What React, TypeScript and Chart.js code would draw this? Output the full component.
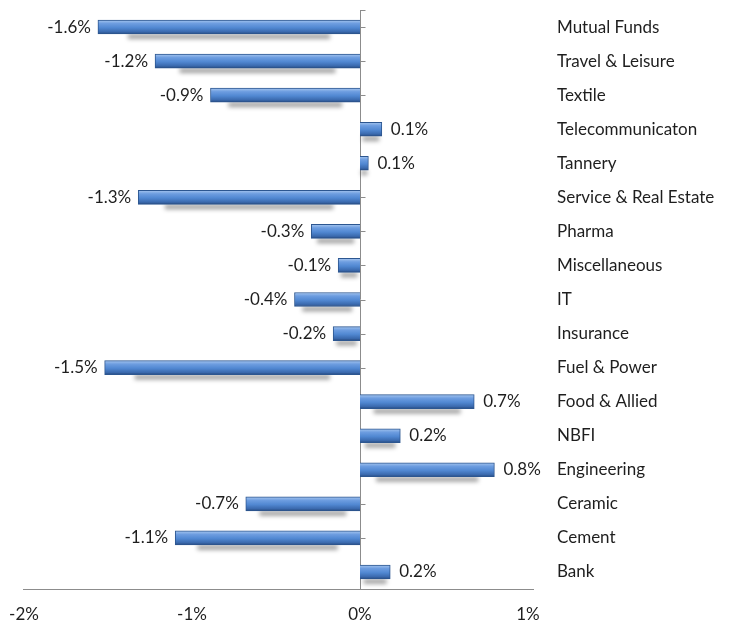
import React, { useEffect, useRef } from "react";
import { Chart, registerables } from "chart.js";

Chart.register(...registerables);

const categories = [
  "Mutual Funds",
  "Travel & Leisure",
  "Textile",
  "Telecommunicaton",
  "Tannery",
  "Service & Real Estate",
  "Pharma",
  "Miscellaneous",
  "IT",
  "Insurance",
  "Fuel & Power",
  "Food & Allied",
  "NBFI",
  "Engineering",
  "Ceramic",
  "Cement",
  "Bank",
];

const changes = [
  -1.56, -1.22, -0.89, 0.13, 0.05, -1.32, -0.29, -0.13, -0.39, -0.16, -1.52,
  0.68, 0.24, 0.8, -0.68, -1.1, 0.18,
];

const xTickValues = [-2, -1, 0, 1];

const FONT = "Lato, 'Open Sans', sans-serif";
const FS = 17;

function fmt(v: number): string {
  const r = Math.round(v * 10) / 10;
  return r.toFixed(1) + "%";
}

const decorPlugin = {
  id: "decor",
  beforeDatasetsDraw(chart: any) {
    const { ctx, chartArea, scales } = chart;
    const x0 = scales.x.getPixelForValue(0);
    ctx.save();
    ctx.strokeStyle = "#8c8c8c";
    ctx.lineWidth = 1;
    ctx.beginPath();
    ctx.moveTo(chartArea.left - 1, Math.round(chartArea.bottom) + 0.5);
    ctx.lineTo(chartArea.right + 6, Math.round(chartArea.bottom) + 0.5);
    ctx.stroke();
    const zx = Math.round(x0) + 0.5;
    ctx.beginPath();
    ctx.moveTo(zx, chartArea.top);
    ctx.lineTo(zx, chartArea.bottom);
    ctx.stroke();
    ctx.beginPath();
    ctx.moveTo(zx, Math.round(chartArea.top) + 0.5);
    ctx.lineTo(zx + 5, Math.round(chartArea.top) + 0.5);
    for (let i = 0; i < categories.length; i++) {
      const y = Math.round(scales.y.getPixelForValue(i)) + 0.5;
      ctx.moveTo(zx, y);
      ctx.lineTo(zx + 5, y);
    }
    ctx.stroke();
    ctx.restore();

    // soft shadows under bars
    const meta = chart.getDatasetMeta(0);
    ctx.save();
    ctx.filter = "blur(2px)";
    ctx.fillStyle = "rgba(0,0,0,0.36)";
    meta.data.forEach((bar: any) => {
      const l = Math.min(bar.x, bar.base);
      const r = Math.max(bar.x, bar.base);
      const len = r - l;
      const inset = Math.min(30, len * 0.12);
      const bottom = bar.y + bar.height / 2;
      ctx.fillRect(l + inset, bottom, len - 2 * inset, 5);
    });
    ctx.restore();
  },
  afterDatasetsDraw(chart: any) {
    const { ctx } = chart;
    const meta = chart.getDatasetMeta(0);
    ctx.save();
    ctx.font = FS + "px " + FONT;
    ctx.fillStyle = "#1e1e1e";
    ctx.textBaseline = "middle";
    meta.data.forEach((bar: any, i: number) => {
      const v = changes[i];
      const text = fmt(v);
      if (v < 0) {
        ctx.textAlign = "right";
        ctx.fillText(text, bar.x - 7, bar.y);
      } else {
        ctx.textAlign = "left";
        ctx.fillText(text, bar.x + 9, bar.y);
      }
    });
    ctx.restore();
  },
};

export default function App() {
  const ref = useRef<HTMLCanvasElement | null>(null);

  useEffect(() => {
    if (!ref.current) return;
    const chart = new Chart(ref.current, {
      type: "bar",
      data: {
        labels: categories,
        datasets: [
          {
            data: changes,
            barThickness: 14,
            borderWidth: 1,
            borderColor: "#2c5690",
            backgroundColor: (context: any) => {
              const c = context.chart;
              const ys = c.scales && c.scales.y;
              if (!ys || context.dataIndex === undefined) return "#4f81bd";
              const y = ys.getPixelForValue(context.dataIndex);
              if (!isFinite(y)) return "#4f81bd";
              const g = c.ctx.createLinearGradient(0, y - 7, 0, y + 7);
              g.addColorStop(0, "#a6c6ef");
              g.addColorStop(0.25, "#6d9de0");
              g.addColorStop(0.55, "#5188d2");
              g.addColorStop(0.85, "#3a69ad");
              g.addColorStop(1, "#27497d");
              return g;
            },
          },
        ],
      },
      options: {
        indexAxis: "y",
        animation: false,
        responsive: false,
        maintainAspectRatio: false,
        layout: { padding: { top: 10, left: 24, right: 0, bottom: 0 } },
        plugins: {
          legend: { display: false },
          tooltip: { enabled: false },
          title: { display: false },
        },
        scales: {
          x: {
            min: -2,
            max: 1,
            afterBuildTicks: (scale: any) => {
              scale.ticks = xTickValues.map((v) => ({ value: v }));
            },
            afterFit: (scale: any) => {
              scale.height = 34;
              scale.paddingLeft = 0;
              scale.paddingRight = 0;
              scale.paddingTop = 0;
              scale.paddingBottom = 0;
            },
            grid: { display: false, drawTicks: false },
            border: { display: false },
            ticks: {
              padding: 15,
              color: "#1e1e1e",
              font: { family: FONT, size: FS },
              callback: (v: any) => v + "%",
            },
          },
          y: {
            position: "right",
            afterFit: (scale: any) => {
              scale.width = 203;
              scale.paddingLeft = 0;
              scale.paddingRight = 0;
              scale.paddingTop = 0;
              scale.paddingBottom = 0;
            },
            grid: { display: false, drawTicks: false },
            border: { display: false },
            ticks: {
              padding: 29,
              color: "#1e1e1e",
              font: { family: FONT, size: FS },
            },
          },
        },
      },
      plugins: [decorPlugin],
    } as any);
    return () => chart.destroy();
  }, []);

  return (
    <div style={{ position: "fixed", left: 0, top: 0, width: 731, height: 623, background: "#fff" }}>
      <canvas ref={ref} width={731} height={623} style={{ width: 731, height: 623 }} />
    </div>
  );
}
